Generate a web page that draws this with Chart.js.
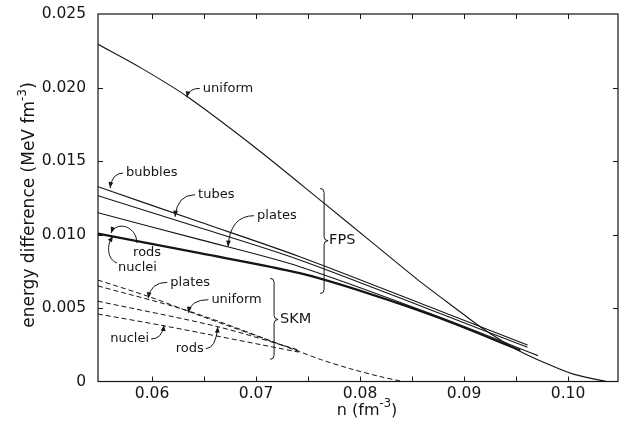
<!DOCTYPE html>
<html>
<head>
<meta charset="utf-8">
<script src="https://cdn.jsdelivr.net/npm/chart.js@4.4.1/dist/chart.umd.min.js"></script>
<style>
  html, body { margin: 0; padding: 0; background: #fff; }
</style>
</head>
<body>
<canvas id="chart" width="621" height="425"></canvas>
<script>
// tick positions
const xTicks = [0.06, 0.065, 0.07, 0.075, 0.08, 0.085, 0.09, 0.095, 0.10];
const yTicks = [0, 0.005, 0.010, 0.015, 0.020, 0.025];

// FPS curves (solid)
const fpsUniformX = [0.0548, 0.0590, 0.0634, 0.0700, 0.0765, 0.0810, 0.0855, 0.0890, 0.0919, 0.0950, 0.0978, 0.1005, 0.1037];
const fpsUniformY = [0.02294, 0.02130, 0.01937, 0.01587, 0.01215, 0.00955, 0.00695, 0.00507, 0.00355, 0.00220, 0.00126, 0.00050, 0.0];
const fpsBubblesX = [0.0548, 0.0646, 0.0742, 0.0877, 0.0961];
const fpsBubblesY = [0.01325, 0.01085, 0.00849, 0.00480, 0.00248];
const fpsTubesX = [0.0548, 0.0646, 0.0742, 0.0877, 0.0961];
const fpsTubesY = [0.01264, 0.01046, 0.00827, 0.00462, 0.00233];
const fpsPlatesX = [0.0548, 0.0646, 0.0742, 0.0877, 0.0971];
const fpsPlatesY = [0.01148, 0.00965, 0.00781, 0.00437, 0.00176];
const fpsRodsX = [0.0548, 0.0646, 0.0742, 0.0810, 0.0877, 0.0954];
const fpsRodsY = [0.01008, 0.00876, 0.00740, 0.00598, 0.00433, 0.00214];
const fpsNucleiX = [0.0548, 0.0646, 0.0742, 0.0810, 0.0877, 0.0954];
const fpsNucleiY = [0.01003, 0.00870, 0.00734, 0.00592, 0.00428, 0.00210];

// SKM curves (dashed)
const skmPlatesX = [0.0548, 0.0598, 0.0646, 0.0741];
const skmPlatesY = [0.0069, 0.00575, 0.00448, 0.00207];
const skmUniformX = [0.0548, 0.0637, 0.0741, 0.0762, 0.0790, 0.0819, 0.0841];
const skmUniformY = [0.0065, 0.00475, 0.00205, 0.0015, 0.00088, 0.00034, 0.0];
const skmRodsX = [0.0548, 0.0663, 0.0741];
const skmRodsY = [0.00546, 0.00373, 0.00214];
const skmNucleiX = [0.0548, 0.0612, 0.0741];
const skmNucleiY = [0.00459, 0.00378, 0.00200];

const ink = '#151515';
const font = 'DejaVu Sans';

function pts(xs, ys) {
    return xs.map((x, i) => ({ x: x, y: ys[i] }));
}

function line(xs, ys, width, dashed) {
    return {
        data: pts(xs, ys),
        showLine: true,
        borderColor: ink,
        borderWidth: width,
        borderDash: dashed ? [5, 3] : [],
        pointRadius: 0,
        tension: 0.3,
        fill: false
    };
}

// labels: tip on a curve (data units), text offset from the tip (px)
const notes = [
    { text: 'uniform', x: 0.06334, y: 0.01933, dx: 16, dy: -9 },
    { text: 'bubbles', x: 0.05596, y: 0.01316, dx: 16, dy: -15 },
    { text: 'tubes', x: 0.06221, y: 0.01121, dx: 23, dy: -22 },
    { text: 'plates', x: 0.06731, y: 0.00917, dx: 29, dy: -31 },
    { text: 'plates', x: 0.05964, y: 0.00566, dx: 22, dy: -16 },
    { text: 'uniform', x: 0.06349, y: 0.00468, dx: 23, dy: -13 },
    { text: 'nuclei', x: 0.06115, y: 0.00384, dx: -15, dy: 14, right: true },
    { text: 'rods', x: 0.06632, y: 0.00373, dx: -14, dy: 22, right: true }
];

function arrowHead(ctx, fx, fy, tx, ty) {
    const a = Math.atan2(ty - fy, tx - fx);
    const l = 6, w = 2.4;
    ctx.beginPath();
    ctx.moveTo(tx, ty);
    ctx.lineTo(tx - l * Math.cos(a) + w * Math.sin(a), ty - l * Math.sin(a) - w * Math.cos(a));
    ctx.lineTo(tx - l * Math.cos(a) - w * Math.sin(a), ty - l * Math.sin(a) + w * Math.cos(a));
    ctx.closePath();
    ctx.fill();
}

function brace(ctx, px, top, mid, bot) {
    const r = 4;
    ctx.beginPath();
    ctx.moveTo(px - r, top);
    ctx.quadraticCurveTo(px, top, px, top + r);
    ctx.lineTo(px, mid - r);
    ctx.quadraticCurveTo(px, mid, px + r, mid);
    ctx.quadraticCurveTo(px, mid, px, mid + r);
    ctx.lineTo(px, bot - r);
    ctx.quadraticCurveTo(px, bot, px - r, bot);
    ctx.stroke();
}

function supText(ctx, parts, cx, cy, size) {
    let total = 0;
    parts.forEach(p => {
        ctx.font = (p[1] ? size * 0.72 : size) + 'px "' + font + '"';
        total += ctx.measureText(p[0]).width;
    });
    let x = cx - total / 2;
    ctx.textAlign = 'left';
    ctx.textBaseline = 'middle';
    parts.forEach(p => {
        ctx.font = (p[1] ? size * 0.72 : size) + 'px "' + font + '"';
        ctx.fillText(p[0], x, p[1] ? cy - size * 0.42 : cy);
        x += ctx.measureText(p[0]).width;
    });
}

const decor = {
    id: 'decor',
    afterDraw(chart) {
        const { ctx, chartArea: a } = chart;
        const sx = chart.scales.x, sy = chart.scales.y;
        ctx.save();
        ctx.strokeStyle = ink;
        ctx.fillStyle = ink;
        ctx.lineWidth = 1.2;
        ctx.strokeRect(a.left, a.top, a.right - a.left, a.bottom - a.top);

        // inward ticks on all four sides
        ctx.lineWidth = 1;
        ctx.beginPath();
        xTicks.forEach(v => {
            const p = Math.round(sx.getPixelForValue(v)) + 0.5;
            ctx.moveTo(p, a.bottom); ctx.lineTo(p, a.bottom - 5);
            ctx.moveTo(p, a.top); ctx.lineTo(p, a.top + 5);
        });
        yTicks.slice(1, -1).forEach(v => {
            const p = Math.round(sy.getPixelForValue(v)) + 0.5;
            ctx.moveTo(a.left, p); ctx.lineTo(a.left + 5, p);
            ctx.moveTo(a.right, p); ctx.lineTo(a.right - 5, p);
        });
        ctx.stroke();

        // curve labels with leaders
        ctx.font = '13px "' + font + '"';
        ctx.textBaseline = 'middle';
        ctx.lineWidth = 1;
        notes.forEach(n => {
            const tx = sx.getPixelForValue(n.x), ty = sy.getPixelForValue(n.y);
            const lx = tx + n.dx, ly = ty + n.dy;
            const s = n.right ? lx + 2 : lx - 3;
            ctx.textAlign = n.right ? 'right' : 'left';
            ctx.fillText(n.text, lx, ly);
            const cx = tx + (n.right ? -1 : 1) * 2, cy = ly;
            ctx.beginPath();
            ctx.moveTo(s, ly);
            ctx.quadraticCurveTo(cx, cy, tx, ty);
            ctx.stroke();
            arrowHead(ctx, cx, cy, tx, ty);
        });

        // FPS rods / nuclei leaders (curl round from the left)
        const rx = sx.getPixelForValue(0.05606), ry = sy.getPixelForValue(0.0101);
        ctx.textAlign = 'left';
        ctx.fillText('rods', rx + 22, ry + 20);
        ctx.beginPath();
        ctx.moveTo(rx + 26, ry + 10);
        ctx.bezierCurveTo(rx + 25, ry - 8, rx + 5, ry - 12, rx, ry);
        ctx.stroke();
        arrowHead(ctx, rx + 3, ry - 9, rx, ry);
        const nx = sx.getPixelForValue(0.05625), ny = sy.getPixelForValue(0.0099);
        ctx.fillText('nuclei', nx + 5, ny + 32);
        ctx.beginPath();
        ctx.moveTo(nx + 4, ny + 27);
        ctx.bezierCurveTo(nx - 6, ny + 24, nx - 7, ny + 8, nx, ny);
        ctx.stroke();
        arrowHead(ctx, nx - 5, ny + 8, nx, ny);

        // group braces
        const fx = sx.getPixelForValue(0.07654);
        const fm = sy.getPixelForValue(0.00958);
        brace(ctx, fx, sy.getPixelForValue(0.01313), fm, sy.getPixelForValue(0.00599));
        ctx.font = '14.5px "' + font + '"';
        ctx.fillText('FPS', fx + 5, fm);
        const kx = sx.getPixelForValue(0.07173);
        const km = sy.getPixelForValue(0.00422);
        brace(ctx, kx, sy.getPixelForValue(0.00702), km, sy.getPixelForValue(0.00151));
        ctx.fillText('SKM', kx + 6, km);

        // axis titles
        supText(ctx, [['n (fm', 0], ['-3', 1], [')', 0]], 367, 411, 16);
        ctx.save();
        ctx.translate(30, 205);
        ctx.rotate(-Math.PI / 2);
        supText(ctx, [['energy difference (MeV fm', 0], ['-3', 1], [')', 0]], 0, 0, 17);
        ctx.restore();
        ctx.restore();
    }
};

new Chart(document.getElementById('chart'), {
    type: 'scatter',
    data: {
        datasets: [
            line(fpsUniformX, fpsUniformY, 1.1, false),
            line(fpsBubblesX, fpsBubblesY, 1.1, false),
            line(fpsTubesX, fpsTubesY, 1.1, false),
            line(fpsPlatesX, fpsPlatesY, 1.1, false),
            line(fpsRodsX, fpsRodsY, 1.5, false),
            line(fpsNucleiX, fpsNucleiY, 1.5, false),
            line(skmPlatesX, skmPlatesY, 1, true),
            line(skmUniformX, skmUniformY, 1, true),
            line(skmRodsX, skmRodsY, 1, true),
            line(skmNucleiX, skmNucleiY, 1, true)
        ]
    },
    options: {
        responsive: false,
        animation: false,
        layout: { padding: { left: 0, right: 3, top: 14, bottom: 0 } },
        plugins: { legend: { display: false }, tooltip: { enabled: false } },
        scales: {
            x: {
                type: 'linear',
                min: 0.0548,
                max: 0.1048,
                grid: { display: false },
                border: { display: false },
                afterBuildTicks: s => { s.ticks = xTicks.map(v => ({ value: v })); },
                afterFit: s => { s.height = 43.5; },
                ticks: {
                    color: ink,
                    font: { family: font, size: 15.5 },
                    padding: -5,
                    maxRotation: 0,
                    autoSkip: false,
                    callback: v => Math.abs(v * 100 - Math.round(v * 100)) < 1e-6 ? v.toFixed(2) : ''
                }
            },
            y: {
                type: 'linear',
                min: 0,
                max: 0.025,
                grid: { display: false },
                border: { display: false },
                afterBuildTicks: s => { s.ticks = yTicks.map(v => ({ value: v })); },
                afterFit: s => { s.width = 98; },
                ticks: {
                    color: ink,
                    font: { family: font, size: 15.5 },
                    padding: 4,
                    callback: v => v === 0 ? '0' : v.toFixed(3)
                }
            }
        }
    },
    plugins: [decor]
});
</script>
</body>
</html>
